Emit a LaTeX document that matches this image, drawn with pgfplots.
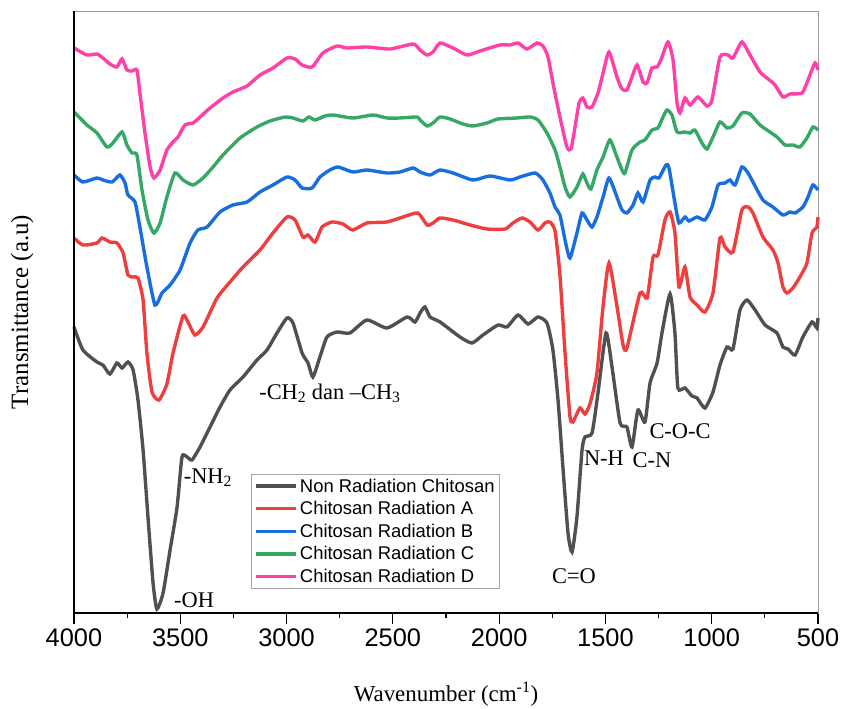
\documentclass[border=0pt]{standalone}
\usepackage{fontspec}
\setmainfont{Liberation Serif}
\setsansfont{Liberation Sans}
\usepackage{pgfplots}
\pgfplotsset{compat=1.18}
\definecolor{cgray}{RGB}{80,80,80}
\definecolor{cred}{RGB}{238,62,62}
\definecolor{cblue}{RGB}{24,110,224}
\definecolor{cgreen}{RGB}{52,168,100}
\definecolor{cpink}{RGB}{255,64,168}

% wavenumber (cm^-1)  transmittance (offset, a.u.)
\pgfplotstableread{
x y
4000 286
3958 263
3892 251
3864 248
3831 239
3798 250
3774 245
3746 251
3722 243
3699 213
3675 163
3652 96
3628 30
3610 4
3581 20
3548 63
3515 106
3492 156
3468 156
3445 153
3407 166
3360 186
3313 206
3266 223
3205 236
3139 253
3092 263
3045 280
2998 295
2970 290
2927 260
2899 250
2876 236
2843 256
2810 276
2763 281
2702 280
2622 293
2528 285
2433 296
2396 291
2372 300
2349 306
2325 296
2278 291
2184 276
2128 270
2076 278
2005 288
1963 286
1911 298
1864 289
1817 296
1775 290
1747 263
1723 213
1700 146
1676 80
1657 61
1634 96
1610 163
1596 176
1563 180
1535 220
1497 280
1469 246
1431 190
1399 186
1375 166
1347 203
1314 191
1290 230
1257 250
1234 280
1196 319
1173 280
1159 225
1126 225
1093 217
1069 215
1032 205
994 221
961 248
928 266
900 264
867 303
834 313
796 303
749 288
693 280
665 266
641 264
608 258
571 276
528 291
505 285
500 295
}\nonrad

\pgfplotstableread{
x y
4000 375
3958 368
3892 370
3868 375
3831 371
3798 370
3769 360
3746 338
3722 336
3699 335
3675 313
3657 260
3633 221
3600 213
3563 229
3534 260
3487 297
3464 291
3431 278
3393 286
3327 315
3266 331
3205 346
3125 363
3064 380
2998 396
2960 393
2923 376
2899 378
2866 371
2833 386
2786 391
2735 389
2688 383
2622 390
2528 391
2452 396
2382 400
2339 388
2311 390
2278 395
2217 393
2137 388
2057 384
1972 384
1935 390
1892 395
1855 391
1817 383
1784 390
1761 391
1737 382
1714 338
1690 260
1667 197
1653 191
1620 205
1596 199
1573 209
1540 240
1511 307
1483 350
1446 307
1417 268
1399 265
1337 320
1304 315
1276 356
1253 358
1220 393
1196 401
1173 380
1154 326
1126 346
1102 316
1069 308
1032 301
994 320
961 375
937 366
900 361
858 403
829 406
806 400
759 376
712 363
688 350
665 326
646 320
618 325
585 336
552 350
528 380
505 386
500 396
}\radA

\pgfplotstableread{
x y
4000 438
3958 431
3892 435
3864 433
3821 431
3784 438
3760 430
3746 418
3713 411
3690 386
3657 346
3619 308
3586 320
3548 328
3501 343
3454 370
3417 383
3374 386
3313 401
3252 408
3186 411
3125 421
3064 428
2998 436
2960 433
2927 425
2880 425
2843 436
2796 443
2758 446
2688 441
2622 443
2528 440
2466 441
2405 445
2372 441
2325 438
2278 443
2217 440
2123 433
2043 437
1949 433
1902 436
1831 440
1794 433
1761 420
1737 406
1714 398
1690 373
1667 355
1634 380
1610 400
1587 393
1563 386
1540 396
1511 416
1483 435
1446 416
1422 403
1399 400
1370 408
1347 420
1323 411
1290 433
1267 436
1248 435
1215 448
1201 445
1173 410
1154 390
1126 396
1107 392
1069 396
1032 393
999 406
970 428
937 430
914 433
890 428
858 446
829 440
806 431
759 413
712 406
665 398
632 401
608 400
571 406
547 416
524 428
500 423
}\radB

\pgfplotstableread{
x y
4000 501
3939 488
3892 480
3845 466
3817 470
3774 481
3751 468
3727 460
3704 458
3680 423
3652 393
3624 380
3595 390
3563 416
3525 440
3487 433
3440 428
3393 435
3346 446
3299 458
3219 475
3139 486
3078 492
3007 496
2970 495
2923 492
2895 496
2866 493
2819 497
2782 498
2688 495
2593 498
2528 495
2466 495
2386 496
2372 493
2339 487
2311 490
2278 496
2231 494
2170 489
2123 487
2057 490
2005 494
1916 495
1855 496
1817 493
1775 480
1737 463
1714 446
1690 426
1667 416
1634 426
1606 439
1587 430
1568 424
1540 443
1511 456
1479 473
1446 456
1422 443
1408 440
1375 463
1337 471
1314 473
1281 483
1253 485
1229 496
1210 503
1187 498
1163 481
1126 481
1102 480
1079 483
1046 470
1022 464
994 476
961 491
928 485
900 487
858 500
820 499
773 488
726 481
693 476
655 468
618 468
585 466
552 475
524 486
500 483
}\radC

\pgfplotstableread{
x y
4000 565
3939 558
3892 559
3864 555
3831 549
3798 546
3774 554
3751 543
3727 542
3704 543
3690 520
3666 480
3642 446
3624 435
3595 443
3563 463
3534 471
3511 476
3478 488
3440 490
3407 496
3360 505
3299 515
3252 521
3186 527
3125 538
3064 545
2998 555
2960 554
2927 548
2880 546
2829 560
2763 567
2716 565
2622 566
2513 564
2405 569
2372 563
2339 558
2311 561
2278 570
2217 565
2151 558
2090 562
1996 568
1949 568
1911 570
1869 564
1822 570
1794 567
1770 556
1747 530
1714 496
1681 466
1662 464
1643 486
1624 510
1606 515
1587 506
1563 506
1535 520
1511 540
1483 561
1446 536
1422 524
1399 523
1375 536
1351 548
1323 531
1304 530
1281 545
1257 546
1239 553
1206 571
1182 553
1163 510
1149 500
1126 515
1102 508
1065 516
1022 507
999 513
961 556
923 558
900 555
858 571
820 558
773 541
740 535
702 528
665 516
632 519
575 520
547 533
514 550
500 543
}\radD

\begin{document}
\begin{tikzpicture}
\begin{axis}[
  scale only axis, width=744bp, height=602bp,
  xmin=500, xmax=4000, x dir=reverse,
  ymin=0, ymax=602,
  axis line style={draw=gray!80, line width=0.8pt},
  xtick={500,1000,1500,2000,2500,3000,3500,4000},
  xticklabels={500,1000,1500,2000,2500,3000,3500,4000},
  minor x tick num=1,
  ytick=\empty,
  xtick pos=bottom,
  tick align=outside,
  major tick length=11bp, minor tick length=5bp,
  tick style={black, line width=1.2pt},
  xticklabel style={font=\sffamily\fontsize{25.5}{28}\selectfont, yshift=-1bp},
  xlabel={Wavenumber (cm\textsuperscript{-1})},
  ylabel={Transmittance (a.u)},
  xlabel style={font=\fontsize{23}{26}\selectfont, yshift=-29bp},
  ylabel style={font=\fontsize{25}{28}\selectfont, yshift=26bp},
  legend style={at={(0.238,0.04)}, anchor=south west,
    font=\sffamily\fontsize{18.5}{20}\selectfont,
    draw=gray!70, line width=0.8pt, row sep=3.8bp,
    inner xsep=3bp, inner ysep=2.5bp},
  legend cell align=left,
  legend image post style={line width=3.5pt},
  legend image code/.code={\draw[#1] (0bp,0bp) -- (40bp,0bp);},
  every axis plot/.append style={line width=3.4pt, smooth, tension=0.35},
  clip=false,
]
\addplot[cgray] table {\nonrad};
\addplot[cred] table {\radA};
\addplot[cblue] table {\radB};
\addplot[cgreen] table {\radC};
\addplot[cpink] table {\radD};
\legend{Non Radiation Chitosan, Chitosan Radiation A, Chitosan Radiation B, Chitosan Radiation C, Chitosan Radiation D}
\draw[black, line width=1.8pt] (rel axis cs:0,1) -- (rel axis cs:0,0) -- (rel axis cs:1,0);
\begin{scope}[every node/.style={font=\fontsize{22.5}{25}\selectfont, inner sep=0pt}]
\node at (axis cs:3435,13) {-OH};
\node at (axis cs:3370,135) {-NH\textsubscript{2}};
\node at (axis cs:2796,220) {-CH\textsubscript{2} dan --CH\textsubscript{3}};
\node at (axis cs:1648,37) {C=O};
\node at (axis cs:1507,155) {N-H};
\node at (axis cs:1281,153) {C-N};
\node at (axis cs:1149,182) {C-O-C};
\end{scope}
\end{axis}
\pgfresetboundingbox
\useasboundingbox (-74bp,-96bp) rectangle (768bp,613bp);
\end{tikzpicture}
\end{document}
